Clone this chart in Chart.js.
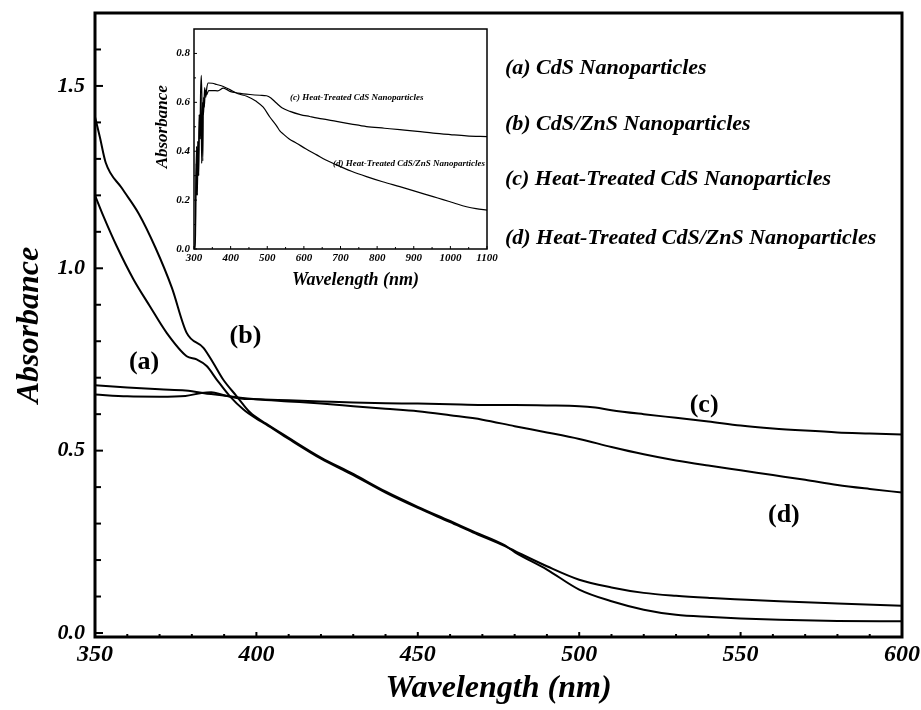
<!DOCTYPE html>
<html>
<head>
<meta charset="utf-8">
<script src="https://cdn.jsdelivr.net/npm/chart.js@4.4.1/dist/chart.umd.min.js"></script>
<style>
  html, body { margin: 0; padding: 0; background: #fff; }
  #wrap { position: relative; width: 921px; height: 710px; background: #fff; }
  #main { position: absolute; left: 0; top: 0; }
  #inset { position: absolute; left: 130px; top: 15px; }
</style>
</head>
<body>
<div id="wrap">
  <canvas id="main" width="921" height="710"></canvas>
  <canvas id="inset" width="380" height="285"></canvas>
</div>
<script>
// ===================== DATA (main plot) =====================
// (a) CdS Nanoparticles
const wlA  = [350, 352.6, 356.7, 361.9, 367, 372.2, 378.4, 381.5, 384.6, 387.7, 391.8, 396, 400, 403, 410, 420, 430, 440, 450, 460, 467, 477, 480, 490, 500, 510, 520, 530, 541, 550, 562, 580, 600];
const absA = [1.20, 1.143, 1.061, 0.970, 0.896, 0.823, 0.759, 0.750, 0.732, 0.695, 0.649, 0.613, 0.588, 0.572, 0.532, 0.478, 0.433, 0.385, 0.343, 0.304, 0.276, 0.238, 0.225, 0.183, 0.146, 0.125, 0.110, 0.102, 0.096, 0.092, 0.087, 0.081, 0.075];
// (b) CdS/ZnS Nanoparticles
const wlB  = [350, 351.5, 353.3, 358.3, 363.6, 368.7, 373.8, 378.4, 383.6, 386.6, 389.7, 393.9, 398, 403, 410, 420, 430, 440, 450, 460, 467, 477, 480, 490, 500, 510, 520, 530, 541, 550, 562, 580, 600];
const absB = [1.415, 1.36, 1.29, 1.22, 1.149, 1.057, 0.947, 0.823, 0.782, 0.741, 0.695, 0.649, 0.605, 0.574, 0.535, 0.481, 0.436, 0.388, 0.346, 0.307, 0.279, 0.240, 0.222, 0.174, 0.119, 0.087, 0.064, 0.050, 0.044, 0.040, 0.036, 0.033, 0.032];
// (c) Heat-Treated CdS Nanoparticles
const wlC  = [350, 360, 370, 378, 383, 386, 390, 395, 400, 410, 420, 430, 440, 450, 460, 470, 480, 490, 500, 505, 510, 520, 530, 540, 550, 560, 570, 580, 590, 600];
const absC = [0.654, 0.649, 0.648, 0.650, 0.658, 0.660, 0.652, 0.643, 0.641, 0.638, 0.635, 0.632, 0.630, 0.629, 0.627, 0.625, 0.625, 0.624, 0.622, 0.618, 0.611, 0.600, 0.590, 0.580, 0.569, 0.561, 0.555, 0.550, 0.547, 0.544];
// (d) Heat-Treated CdS/ZnS Nanoparticles
const wlD  = [350, 360, 370, 378, 386, 395, 400, 410, 420, 430, 440, 450, 460, 470, 480, 490, 500, 510, 520, 530, 540, 550, 560, 570, 580, 590, 600];
const absD = [0.679, 0.673, 0.668, 0.665, 0.655, 0.645, 0.641, 0.635, 0.629, 0.622, 0.615, 0.608, 0.597, 0.585, 0.567, 0.550, 0.532, 0.510, 0.490, 0.473, 0.459, 0.446, 0.433, 0.420, 0.406, 0.395, 0.385];

// tick values (main)
const xMainTicks = [350, 400, 450, 500, 550, 600];
const xMainMinor = [360, 370, 380, 390, 410, 420, 430, 440, 460, 470, 480, 490, 510, 520, 530, 540, 560, 570, 580, 590];
const yMainTicks = [0.0, 0.5, 1.0, 1.5];
const yMainMinor = [0.1, 0.2, 0.3, 0.4, 0.6, 0.7, 0.8, 0.9, 1.1, 1.2, 1.3, 1.4, 1.6];

const seriesNames = ['(a) CdS Nanoparticles', '(b) CdS/ZnS Nanoparticles', '(c) Heat-Treated CdS Nanoparticles', '(d) Heat-Treated CdS/ZnS Nanoparticles'];
const curveTags = ['(a)', '(b)', '(c)', '(d)'];

// ===================== DATA (inset) =====================
const wlInC  = [301, 304, 306, 308, 310, 312, 314, 316, 318, 320, 322, 324, 326, 328, 331, 334, 340, 350, 365, 380, 390, 398, 420, 453, 480, 498, 510, 525, 540, 562, 590, 616, 650, 689, 730, 771, 820, 862, 910, 953, 1000, 1044, 1100];
const absInC = [0.0, 0.05, 0.35, 0.22, 0.44, 0.36, 0.55, 0.46, 0.64, 0.71, 0.58, 0.36, 0.62, 0.58, 0.65, 0.63, 0.648, 0.648, 0.647, 0.658, 0.652, 0.645, 0.638, 0.632, 0.629, 0.627, 0.618, 0.597, 0.578, 0.563, 0.550, 0.542, 0.532, 0.522, 0.511, 0.501, 0.494, 0.488, 0.481, 0.474, 0.468, 0.463, 0.460];
const wlInD  = [300, 303, 305, 307, 309, 311, 313, 315, 317, 319, 321, 323, 326, 329, 332, 335, 339, 350, 362, 380, 398, 420, 444, 471, 489, 507, 525, 535, 544, 560, 580, 605, 635, 660, 689, 730, 771, 815, 862, 905, 953, 980, 1010, 1044, 1070, 1100];
const absInD = [0.0, 0.0, 0.25, 0.42, 0.22, 0.40, 0.30, 0.52, 0.45, 0.62, 0.35, 0.60, 0.55, 0.66, 0.62, 0.66, 0.679, 0.678, 0.673, 0.665, 0.652, 0.635, 0.625, 0.603, 0.580, 0.540, 0.505, 0.482, 0.470, 0.450, 0.433, 0.410, 0.385, 0.364, 0.344, 0.318, 0.296, 0.275, 0.255, 0.236, 0.214, 0.202, 0.188, 0.173, 0.165, 0.159];

const xInsetTicks = [300, 400, 500, 600, 700, 800, 900, 1000, 1100];
const xInsetMinor = [350, 450, 550, 650, 750, 850, 950, 1050];
const yInsetTicks = [0.0, 0.2, 0.4, 0.6, 0.8];
const yInsetMinor = [0.1, 0.3, 0.5, 0.7];

// ===================== helpers =====================
const FAMILY = '"Liberation Serif", "Times New Roman", serif';
const xy = (xs, ys) => xs.map((x, i) => ({ x: x, y: ys[i] }));
const bi = (size) => ({ family: FAMILY, size: size, style: 'italic', weight: 'bold', lineHeight: 1 });

function decorPlugin(cfg) {
  return {
    id: 'decor',
    afterDatasetsDraw(chart) {
      const { ctx, chartArea: a, scales: { x, y } } = chart;
      ctx.save();
      ctx.strokeStyle = '#000';
      ctx.lineWidth = cfg.tickWidth;
      const seg = (x1, y1, x2, y2) => { ctx.beginPath(); ctx.moveTo(x1, y1); ctx.lineTo(x2, y2); ctx.stroke(); };
      cfg.xMajor.forEach(v => { const p = x.getPixelForValue(v); seg(p, a.bottom, p, a.bottom - cfg.xMajorLen); });
      cfg.xMinor.forEach(v => { const p = x.getPixelForValue(v); seg(p, a.bottom, p, a.bottom - cfg.xMinorLen); });
      cfg.yMajor.forEach(v => { const p = y.getPixelForValue(v); seg(a.left, p, a.left + cfg.yMajorLen, p); });
      cfg.yMinor.forEach(v => { const p = y.getPixelForValue(v); seg(a.left, p, a.left + cfg.yMinorLen, p); });
      ctx.lineWidth = cfg.frameWidth;
      ctx.strokeRect(a.left, a.top, a.right - a.left, a.bottom - a.top);
      ctx.restore();
    }
  };
}

// free texts placed in data coordinates through the chart's scales
function textPlugin(items) {
  return {
    id: 'texts',
    afterDraw(chart) {
      const { ctx, scales: { x, y } } = chart;
      items.forEach(it => {
        ctx.save();
        ctx.font = it.font;
        ctx.fillStyle = '#000';
        ctx.textAlign = it.align || 'center';
        ctx.textBaseline = 'middle';
        ctx.translate(x.getPixelForValue(it.x), y.getPixelForValue(it.y));
        if (it.rotate) ctx.rotate(it.rotate);
        ctx.fillText(it.text, 0, 0);
        ctx.restore();
      });
    }
  };
}

// fix scale size and drop label-overhang padding so the plot area is exactly set by layout padding
const fitX = (h) => function (s) { s.height = h; s.paddingLeft = 0; s.paddingRight = 0; };
const fitY = (w) => function (s) { s.width = w; s.paddingTop = 0; s.paddingBottom = 0; };

// ===================== MAIN CHART =====================
const lineStyle = { borderColor: '#000', borderWidth: 2, pointRadius: 0, fill: false, cubicInterpolationMode: 'monotone' };

new Chart(document.getElementById('main'), {
  type: 'line',
  data: {
    datasets: [
      Object.assign({ label: seriesNames[0], data: xy(wlA, absA) }, lineStyle),
      Object.assign({ label: seriesNames[1], data: xy(wlB, absB) }, lineStyle),
      Object.assign({ label: seriesNames[2], data: xy(wlC, absC) }, lineStyle),
      Object.assign({ label: seriesNames[3], data: xy(wlD, absD) }, lineStyle)
    ]
  },
  options: {
    responsive: false,
    animation: false,
    layout: { padding: { left: 0, right: 19, top: 13, bottom: 0 } },
    plugins: { legend: { display: false }, tooltip: { enabled: false } },
    scales: {
      x: {
        type: 'linear', min: 350, max: 600,
        afterFit: fitX(73),
        afterBuildTicks(s) { s.ticks = xMainTicks.map(v => ({ value: v })); },
        grid: { display: false, drawTicks: false },
        border: { display: false },
        ticks: { padding: 6, color: '#000', font: bi(24), maxRotation: 0, autoSkip: false, callback: v => String(v) },
        title: { display: true, text: 'Wavelength (nm)', color: '#000', font: bi(32), padding: { top: 0, bottom: 5 } }
      },
      y: {
        type: 'linear', min: -0.011, max: 1.70,
        afterFit: fitY(95),
        afterBuildTicks(s) { s.ticks = yMainTicks.map(v => ({ value: v })); },
        grid: { display: false, drawTicks: false },
        border: { display: false },
        ticks: { padding: 10, color: '#000', font: bi(22), autoSkip: false, callback: v => Number(v).toFixed(1) },
        title: { display: true, text: 'Absorbance', color: '#000', font: bi(32), padding: { top: 14, bottom: 0 } }
      }
    }
  },
  plugins: [
    decorPlugin({ xMajor: xMainTicks, xMinor: xMainMinor, yMajor: yMainTicks, yMinor: yMainMinor,
                  xMajorLen: 5, xMinorLen: 3, yMajorLen: 8, yMinorLen: 6, tickWidth: 2, frameWidth: 3 }),
    textPlugin([
      { text: seriesNames[0], x: 477, y: 1.549, align: 'left', font: 'italic bold 22px ' + FAMILY },
      { text: seriesNames[1], x: 477, y: 1.396, align: 'left', font: 'italic bold 22px ' + FAMILY },
      { text: seriesNames[2], x: 477, y: 1.243, align: 'left', font: 'italic bold 22px ' + FAMILY },
      { text: seriesNames[3], x: 477, y: 1.081, align: 'left', font: 'italic bold 22px ' + FAMILY },
      { text: curveTags[0], x: 365.2, y: 0.742, font: 'bold 26px ' + FAMILY },
      { text: curveTags[1], x: 396.6, y: 0.813, font: 'bold 26px ' + FAMILY },
      { text: curveTags[2], x: 538.7, y: 0.624, font: 'bold 26px ' + FAMILY },
      { text: curveTags[3], x: 563.4, y: 0.322, font: 'bold 26px ' + FAMILY }
    ])
  ]
});

// ===================== INSET CHART =====================
const insetLine = { borderColor: '#000', borderWidth: 1.2, pointRadius: 0, fill: false, cubicInterpolationMode: 'monotone' };

new Chart(document.getElementById('inset'), {
  type: 'line',
  data: {
    datasets: [
      Object.assign({ label: seriesNames[2], data: xy(wlInC, absInC) }, insetLine),
      Object.assign({ label: seriesNames[3], data: xy(wlInD, absInD) }, insetLine)
    ]
  },
  options: {
    responsive: false,
    animation: false,
    layout: { padding: { left: 0, right: 23, top: 14, bottom: 0 } },
    plugins: { legend: { display: false }, tooltip: { enabled: false } },
    scales: {
      x: {
        type: 'linear', min: 300, max: 1100,
        afterFit: fitX(51),
        afterBuildTicks(s) { s.ticks = xInsetTicks.map(v => ({ value: v })); },
        grid: { display: false, drawTicks: false },
        border: { display: false },
        ticks: { padding: 3.5, color: '#000', font: bi(11), maxRotation: 0, autoSkip: false, callback: v => String(v) },
        title: { display: false, text: 'Wavelength (nm)' }
      },
      y: {
        type: 'linear', min: 0, max: 0.9,
        afterFit: fitY(64),
        afterBuildTicks(s) { s.ticks = yInsetTicks.map(v => ({ value: v })); },
        grid: { display: false, drawTicks: false },
        border: { display: false },
        ticks: { padding: 4, color: '#000', font: bi(11), autoSkip: false, callback: v => Number(v).toFixed(1) },
        title: { display: false, text: 'Absorbance' }
      }
    }
  },
  plugins: [
    decorPlugin({ xMajor: xInsetTicks, xMinor: xInsetMinor, yMajor: yInsetTicks, yMinor: yInsetMinor,
                  xMajorLen: 3, xMinorLen: 2, yMajorLen: 3, yMinorLen: 2, tickWidth: 1, frameWidth: 1.5 }),
    textPlugin([
      { text: 'Wavelength (nm)', x: 741, y: -0.13, font: 'italic bold 18px ' + FAMILY },
      { text: 'Absorbance', x: 215, y: 0.50, rotate: -Math.PI / 2, font: 'italic bold 17px ' + FAMILY },
      { text: '(c) Heat-Treated CdS Nanoparticles', x: 744.5, y: 0.62, font: 'italic bold 9px ' + FAMILY },
      { text: '(d) Heat-Treated CdS/ZnS Nanoparticles', x: 887, y: 0.348, font: 'italic bold 9px ' + FAMILY }
    ])
  ]
});
</script>
</body>
</html>
